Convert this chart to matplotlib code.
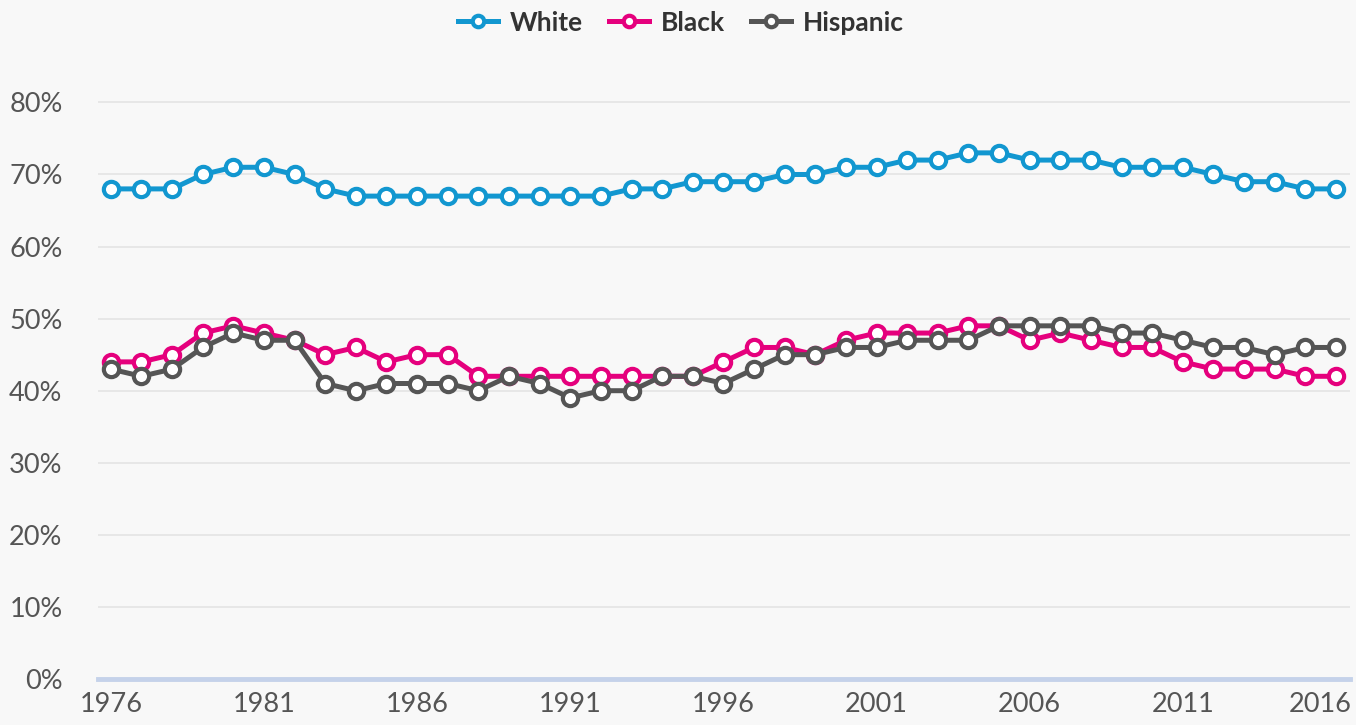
"""Share of population by race/ethnicity, 1976-2016 — line chart recreation."""

import matplotlib
matplotlib.use("Agg")
import matplotlib.pyplot as plt
import matplotlib.transforms as mtransforms
from matplotlib.ticker import FuncFormatter

plt.rcParams["font.family"] = ["Lato", "DejaVu Sans"]

years = list(range(1976, 2017))

white = [68, 68, 68, 70, 71, 71, 70, 68, 67, 67,
         67, 67, 67, 67, 67, 67, 67, 68, 68, 69,
         69, 69, 70, 70, 71, 71, 72, 72, 73, 73,
         72, 72, 72, 71, 71, 71, 70, 69, 69, 68, 68]

black = [44, 44, 45, 48, 49, 48, 47, 45, 46, 44,
         45, 45, 42, 42, 42, 42, 42, 42, 42, 42,
         44, 46, 46, 45, 47, 48, 48, 48, 49, 49,
         47, 48, 47, 46, 46, 44, 43, 43, 43, 42, 42]

hispanic = [43, 42, 43, 46, 48, 47, 47, 41, 40, 41,
            41, 41, 40, 42, 41, 39, 40, 40, 42, 42,
            41, 43, 45, 45, 46, 46, 47, 47, 47, 49,
            49, 49, 49, 48, 48, 47, 46, 46, 45, 46, 46]

series = [("White", white, "#1297d0"),
          ("Black", black, "#e5007d"),
          ("Hispanic", hispanic, "#555555")]

y_ticks = list(range(0, 81, 10))
x_ticks = list(range(1976, 2017, 5))

BG = "#f8f8f8"

fig = plt.figure(figsize=(13.56, 7.25), dpi=100, facecolor=BG)
ax = fig.add_axes([98 / 1356, 1 - 679 / 725, (1350 - 98) / 1356, (679 - 88) / 725])
ax.set_facecolor(BG)

for name, vals, color in series:
    ax.plot(years, vals, color=color, linewidth=3.6, marker="o", markersize=11,
            markerfacecolor="white", markeredgecolor=color, markeredgewidth=3,
            label=name, zorder=3)

ax.set_xlim(1975.58, 2016.46)
ax.set_ylim(0, 82)
ax.set_yticks(y_ticks)
ax.set_xticks(x_ticks)
ax.yaxis.set_major_formatter(FuncFormatter(lambda v, _: f"{v:.0f}%"))

ax.grid(axis="y", color="#e4e4e4", linewidth=1.2, zorder=0)
ax.axhline(0, color="#c5d2ea", linewidth=3.5, zorder=2, clip_on=False)
for s in ax.spines.values():
    s.set_visible(False)
ax.tick_params(axis="both", length=0, labelsize=19.5, labelcolor="#555555")
ax.tick_params(axis="y", pad=32)
ax.tick_params(axis="x", pad=9)
for lbl in ax.get_yticklabels():
    lbl.set_horizontalalignment("right")
    lbl.set_transform(lbl.get_transform() + mtransforms.ScaledTranslation(9 / 100, 0, fig.dpi_scale_trans))

# last year label gets pulled inside the figure edge
last = ax.get_xticklabels()[-1]
last.set_transform(last.get_transform() + mtransforms.ScaledTranslation(-16 / 100, 0, fig.dpi_scale_trans))

leg = fig.legend(loc="upper center", bbox_to_anchor=(0.502, 1.018), ncol=3, frameon=False,
                 prop={"size": 19, "weight": "bold"}, handlelength=1.5, handletextpad=0.45,
                 columnspacing=1.0, markerscale=0.75)
for t in leg.get_texts():
    t.set_color("#333333")

fig.savefig("out.png", dpi=100, facecolor=BG)
